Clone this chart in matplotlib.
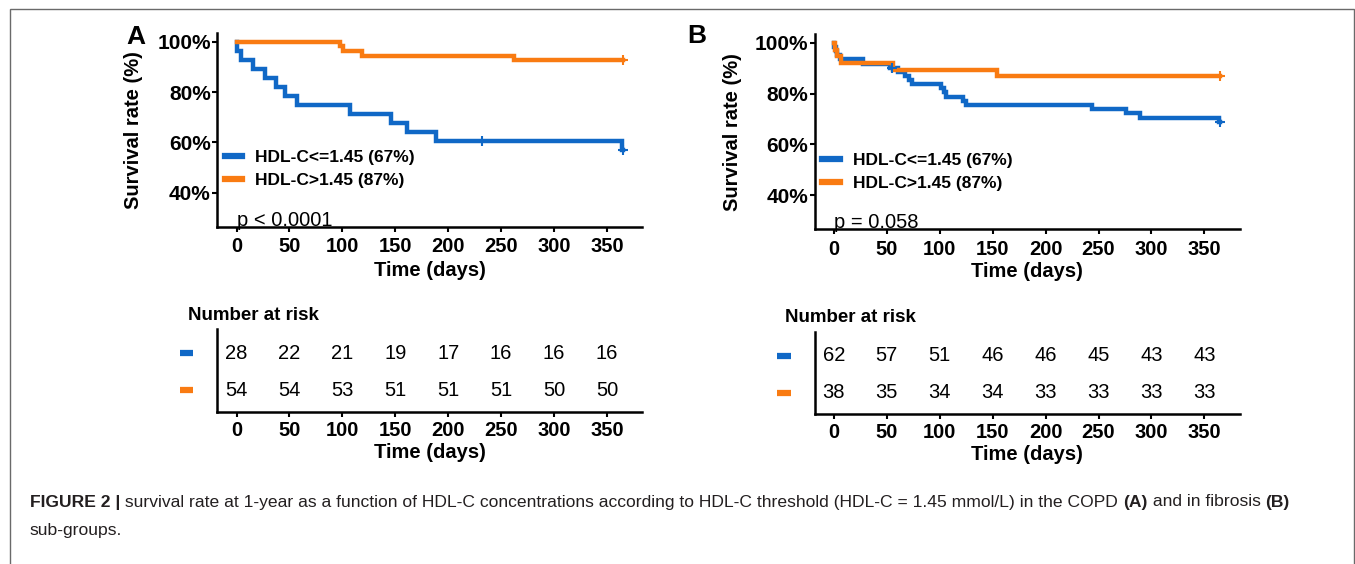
import matplotlib
matplotlib.use('Agg')
import matplotlib.pyplot as plt
from matplotlib.lines import Line2D
from matplotlib.patches import Rectangle
import matplotlib.transforms as mtransforms

plt.rcParams['font.family'] = ['Liberation Sans', 'DejaVu Sans']

BLUE = '#1068C6'
ORANGE = '#F97B12'

# ---------------- data ----------------
# Panel A (COPD) - survival (%) step functions
a_low_t = [0, 0.5, 4.5, 16, 27, 37, 46, 57.5, 107, 146, 161.5, 188.5, 364.5, 365]
a_low_s = [100, 96.4, 92.9, 89.3, 85.7, 82.1, 78.6, 75.0, 71.4, 67.9, 64.3, 60.7, 56.9, 56.9]
a_low_cens_t = [232, 365]
a_low_cens_s = [60.7, 56.9]
a_high_t = [0, 98, 101, 119, 262, 365]
a_high_s = [100, 98.1, 96.3, 94.4, 92.6, 92.6]
a_high_cens_t = [365]
a_high_cens_s = [92.6]
a_risk_low = [28, 22, 21, 19, 17, 16, 16, 16]
a_risk_high = [54, 54, 53, 51, 51, 51, 50, 50]
a_pval = 'p < 0.0001'

# Panel B (fibrosis)
b_low_t = [0, 0.5, 1.5, 3, 5.5, 27.6, 52.8, 60.7, 67, 71, 74, 101, 104, 106,
           122, 125, 244, 276, 288.7, 364, 365]
b_low_s = [100, 98.4, 96.8, 95.2, 93.5, 91.9, 90.3, 88.7, 87.0, 85.4, 83.8, 82.1,
           80.5, 78.8, 77.2, 75.5, 73.9, 72.3, 70.6, 69.0, 69.0]
b_low_cens_t = [54.4, 365]
b_low_cens_s = [90.3, 69.0]
b_high_t = [0, 1, 3, 7, 56, 154, 365]
b_high_s = [100, 97.4, 94.7, 92.1, 89.5, 86.8, 86.8]
b_high_cens_t = [365]
b_high_cens_s = [86.8]
b_risk_low = [62, 57, 51, 46, 46, 45, 43, 43]
b_risk_high = [38, 35, 34, 34, 33, 33, 33, 33]
b_pval = 'p = 0.058'

risk_times = [0, 50, 100, 150, 200, 250, 300, 350]
x_ticks = [0, 50, 100, 150, 200, 250, 300, 350]
y_ticks = [40, 60, 80, 100]
legend_labels = ['HDL-C<=1.45 (67%)', 'HDL-C>1.45 (87%)']
panel_letters = ['A', 'B']
caption_parts = [("FIGURE 2 |", True),
                 (" survival rate at 1-year as a function of HDL-C concentrations according to "
                  "HDL-C threshold (HDL-C = 1.45 mmol/L) in the COPD ", False),
                 ("(A)", True), (" and in fibrosis ", False), ("(B)", True)]
caption_line2 = "sub-groups."

# ---------------- layout ----------------
W, H = 1355, 564
fig = plt.figure(figsize=(W / 100, H / 100), dpi=100)
fig.patch.set_facecolor('white')

XLIM = (-18.25, 383.25)
YLIM = (26.5, 103.5)


def fax(left, right, top, bottom):
    return fig.add_axes([left / W, 1 - bottom / H, (right - left) / W, (bottom - top) / H])


def style_axes(ax):
    for s in ['top', 'right']:
        ax.spines[s].set_visible(False)
    for s in ['left', 'bottom']:
        ax.spines[s].set_linewidth(1.8)
        ax.spines[s].set_color('black')
    ax.tick_params(width=1.5, length=3.6, color='black')


def draw_panel(left, top, bottom, tbl_top, tbl_bottom, data, letter, letter_xy,
               ylab_xy, xlab_y, nar_xy, tbl_xlab_y):
    (lt, ls, lct, lcs, ht, hs, hct, hcs, rlow, rhigh, pval) = data
    right = left + 425.0
    ax = fax(left, right, top, bottom)
    style_axes(ax)
    ax.plot(lt, ls, drawstyle='steps-post', color=BLUE, lw=3.2, solid_joinstyle='miter')
    ax.plot(ht, hs, drawstyle='steps-post', color=ORANGE, lw=3.2, solid_joinstyle='miter')
    ax.plot(lct, lcs, ls='none', marker='+', ms=7, mew=1.5, color=BLUE)
    ax.plot(hct, hcs, ls='none', marker='+', ms=7, mew=1.5, color=ORANGE)
    ax.set_xlim(*XLIM)
    ax.set_ylim(*YLIM)
    ax.set_xticks(x_ticks)
    ax.set_xticklabels([str(v) for v in x_ticks], fontsize=14.5, fontweight='bold')
    ax.set_yticks(y_ticks)
    ax.set_yticklabels([f'{v}%' for v in y_ticks], fontsize=15, fontweight='bold')
    ax.tick_params(axis='x', pad=4)
    ax.tick_params(axis='y', pad=1)
    ax.text(0, 29, pval, fontsize=14.5, ha='left', va='center')
    handles = [Line2D([0], [0], color=BLUE, lw=4.5, marker='+', ms=5, mew=1.2),
               Line2D([0], [0], color=ORANGE, lw=4.5, marker='+', ms=5, mew=1.2)]
    ax.legend(handles, legend_labels, loc='center left', bbox_to_anchor=(0.018, 0.296),
              frameon=False, prop={'weight': 'bold', 'size': 12.5}, handlelength=1.0,
              handletextpad=0.75, labelspacing=0.45, borderpad=0, borderaxespad=0)
    fig.text(letter_xy[0] / W, 1 - letter_xy[1] / H, letter, fontsize=19,
             fontweight='bold', ha='center', va='center')
    fig.text(ylab_xy[0] / W, 1 - ylab_xy[1] / H, 'Survival rate (%)', fontsize=14.5,
             fontweight='bold', rotation=90, ha='center', va='center')
    fig.text((left + right) / 2 / W, 1 - xlab_y / H, 'Time (days)', fontsize=14.5,
             fontweight='bold', ha='center', va='center')

    # risk table
    tx = fax(left, right, tbl_top, tbl_bottom)
    style_axes(tx)
    tx.set_xlim(*XLIM)
    tx.set_ylim(0.42, 2.65)
    tx.set_yticks([])
    tx.set_xticks(x_ticks)
    tx.set_xticklabels([str(v) for v in x_ticks], fontsize=14.5, fontweight='bold')
    tx.tick_params(axis='x', pad=3)
    for t, n in zip(risk_times, rlow):
        tx.text(t, 2, str(n), fontsize=14.5, ha='center', va='center')
    for t, n in zip(risk_times, rhigh):
        tx.text(t, 1, str(n), fontsize=14.5, ha='center', va='center')
    trans = mtransforms.blended_transform_factory(tx.transAxes, tx.transData)
    tx.plot([-0.088, -0.056], [2, 2], transform=trans, color=BLUE, lw=4.5,
            solid_capstyle='butt', clip_on=False)
    tx.plot([-0.088, -0.056], [1, 1], transform=trans, color=ORANGE, lw=4.5,
            solid_capstyle='butt', clip_on=False)
    fig.text(nar_xy[0] / W, 1 - nar_xy[1] / H, 'Number at risk', fontsize=13.5,
             fontweight='bold', ha='left', va='center')
    fig.text((left + right) / 2 / W, 1 - tbl_xlab_y / H, 'Time (days)', fontsize=14.5,
             fontweight='bold', ha='center', va='center')


draw_panel(217.2, 32.9, 226.8, 329.0, 411.7,
           (a_low_t, a_low_s, a_low_cens_t, a_low_cens_s, a_high_t, a_high_s,
            a_high_cens_t, a_high_cens_s, a_risk_low, a_risk_high, a_pval),
           panel_letters[0], (136, 37), (133.7, 129.9), 270, (188.3, 315.5), 453)
draw_panel(814.6, 34.1, 229.3, 331.5, 414.0,
           (b_low_t, b_low_s, b_low_cens_t, b_low_cens_s, b_high_t, b_high_s,
            b_high_cens_t, b_high_cens_s, b_risk_low, b_risk_high, b_pval),
           panel_letters[1], (697, 36), (732.7, 131.7), 271, (785, 317), 455)

# frame
fig.add_artist(Rectangle((9.5 / W, -0.05), (1353.5 - 9.5) / W, 1.05 - 8.5 / H,
                         transform=fig.transFigure, fill=False, edgecolor='#6a6a6a',
                         lw=1.0))

# caption
fig.canvas.draw()
r = fig.canvas.get_renderer()
CAP_COLOR = '#231F20'


def put_caption(fs, y):
    x = 30 / W
    objs = []
    for txt, bold in caption_parts:
        t = fig.text(x, y, txt, fontsize=fs, fontweight='bold' if bold else 'normal',
                     ha='left', va='center', color=CAP_COLOR)
        bb = t.get_window_extent(renderer=r)
        x = bb.x1 / W
        objs.append(t)
    return objs, x * W - 30


objs, width = put_caption(12, 1 - 502 / H)
fs = 12 * 1260 / width
for o in objs:
    o.remove()
put_caption(fs, 1 - 502 / H)
fig.text(30 / W, 1 - 530 / H, caption_line2, fontsize=fs, ha='left', va='center',
         color=CAP_COLOR)

fig.savefig('out.png', dpi=100)
